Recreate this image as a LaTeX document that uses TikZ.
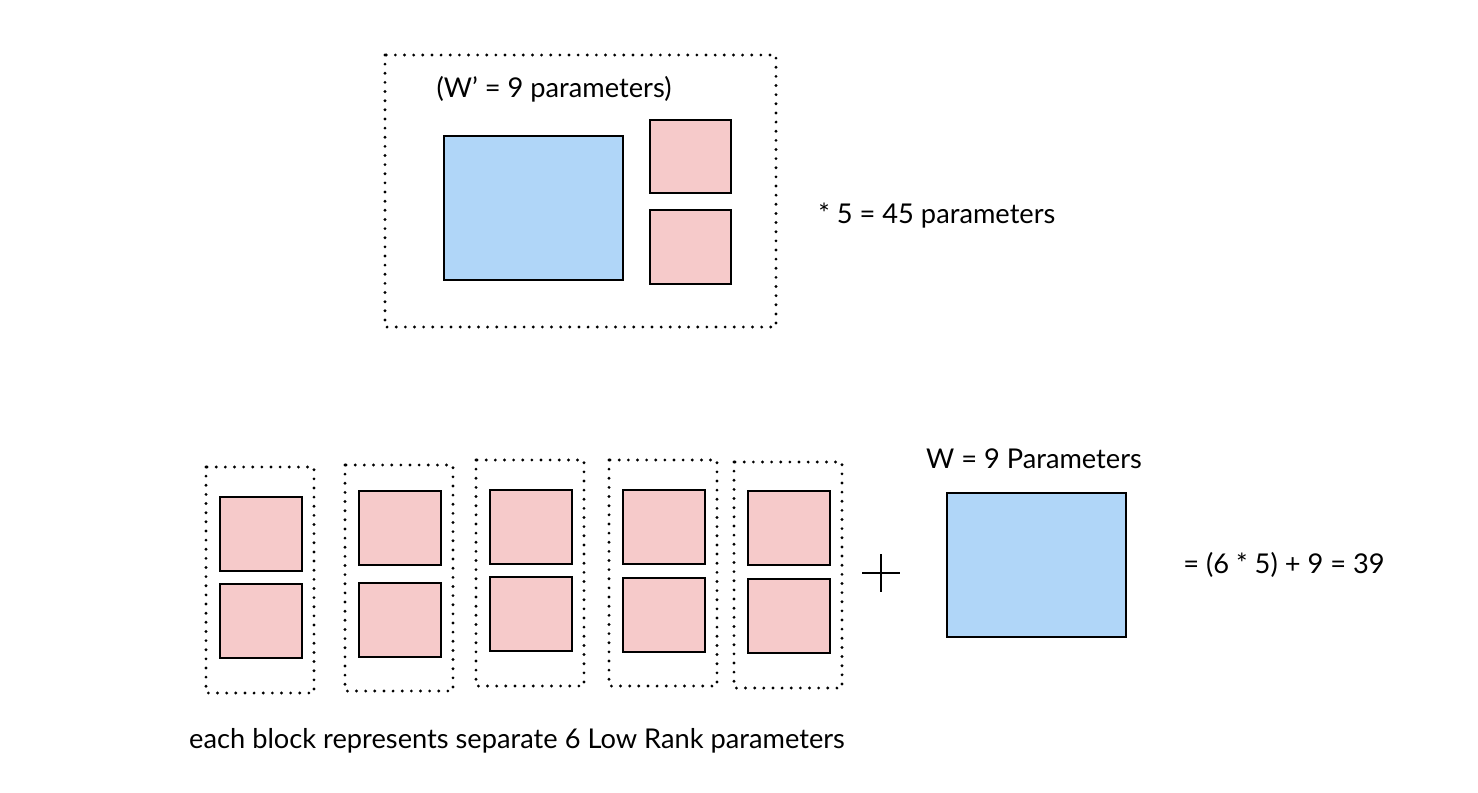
\documentclass[tikz,border=0pt]{standalone}
\usepackage{fontspec}
\setmainfont{Lato}
\usepackage{xcolor}
\definecolor{lowrank}{HTML}{F6CACA}
\definecolor{weight}{HTML}{B0D6F8}
\begin{document}
\begin{tikzpicture}[x=0.02cm,y=-0.02cm,
            dotbox/.style={line width=1.8pt, line cap=round, dash pattern=on 0pt off 5.2pt},
            pink/.style={draw, line width=1.1pt, fill=lowrank},
            blue/.style={draw, line width=1.1pt, fill=weight},
            txt/.style={font=\fontsize{15.5}{18}\selectfont, inner sep=0pt}]
        \useasboundingbox (0,0) rectangle (1478,792);
        % merged block
        \draw[dotbox] (385,55) rectangle (776,327);
        \node[txt] (wprime) at (554,89) {(W' = 9 parameters)};
        \draw[blue] (444,136) rectangle (623,280);
        \draw[pink] (650,120) rectangle (731,193);
        \draw[pink] (650,210) rectangle (731,284);
        \node[txt, anchor=west] (total) at (818,216) {* 5 = 45 parameters};

        % separate low rank blocks
        \foreach \bx/\by/\ty/\ly in {206/467/497/584, 345/465/491/583, 476/460/490/577, 609/460/490/578, 734/462/491/579} {
            \draw[dotbox] (\bx,\by) rectangle ++(108,226);
            \draw[pink] (\bx+14,\ty) rectangle ++(82,74);
            \draw[pink] (\bx+14,\ly) rectangle ++(82,74);
        }
        \draw[line width=1.1pt] (862,573) -- (900,573) (881,554) -- (881,592);
        \node[txt] (wlabel) at (1034,459) {W = 9 Parameters};
        \draw[blue] (947,493) rectangle (1126,637);
        \node[txt, anchor=west] (sum) at (1183,565) {= (6 * 5) + 9 = 39};
        \node[txt] (caption) at (517,741) {each block represents separate 6 Low Rank parameters};
    \end{tikzpicture}
\end{document}
